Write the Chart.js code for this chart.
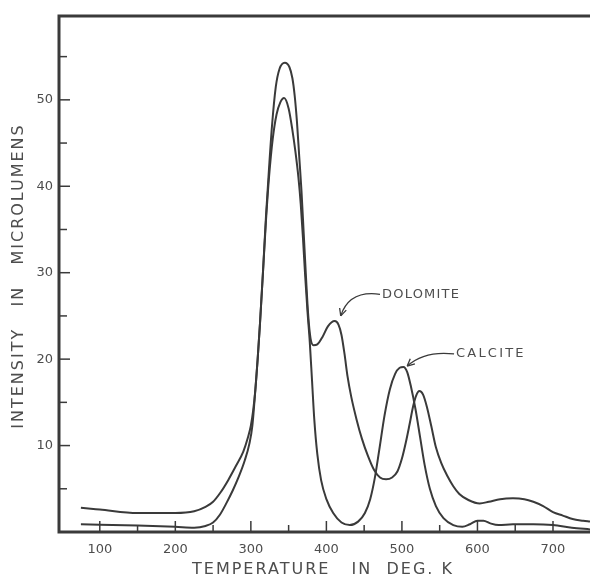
<!DOCTYPE html>
<html>
<head>
<meta charset="utf-8">
<script src="https://cdn.jsdelivr.net/npm/chart.js@4.4.1/dist/chart.umd.min.js"></script>
<style>
  html, body { margin: 0; padding: 0; background: #fff; overflow: hidden; }
  #wrap { width: 590px; height: 579px; }
</style>
</head>
<body>
<div id="wrap"><canvas id="glow"></canvas></div>
<script>
// ── Data ──────────────────────────────────────
const dolomiteT = [75,100,150,200,225,240,250,260,270,280,290,296,300,303,306,309,312,316,320,324,328,333,338,345,351,355,358,361,364,367,370,373,376,379,383,388,395,402,411,416,420,424,428,433,440,447,455,463,471,479,487,494,500,505,510,515,519,523,528,533,539,545,552,560,568,576,588,603,615,630,647,662,674,687,700,713,726,740,749];
const dolomiteI = [2.8,2.6,2.2,2.2,2.4,2.9,3.5,4.6,6.0,7.6,9.3,10.9,12.3,14,16.5,20,24,30,36.5,42,47,51.5,53.6,54.3,53.8,52.5,50.5,47.5,43.5,39.5,34.5,29.5,25,22.4,21.6,21.7,22.6,23.8,24.4,24.0,22.8,20.6,18.0,15.6,13.0,10.8,8.8,7.2,6.3,6.1,6.3,7.0,8.5,10.3,12.4,14.6,15.8,16.3,15.9,14.5,12.2,9.8,8.0,6.5,5.3,4.4,3.7,3.3,3.5,3.8,3.9,3.8,3.5,3.0,2.3,1.9,1.5,1.3,1.2];

const calciteT = [75,100,150,200,225,240,250,259,268,276,284,292,298,302,306,309,312,316,320,324,329,334,339,344,350,355,359,363,366,369,372,375,378,381,384,388,393,400,409,420,431,442,451,458,464,470,477,484,491,497,502,507,512,518,524,530,537,545,555,568,580,590,600,608,617,628,647,674,700,725,749];
const calciteI = [0.9,0.85,0.75,0.6,0.5,0.7,1.1,2.0,3.4,4.8,6.4,8.3,10.2,12.3,16.5,20,24,30,36,41,45.5,48.3,49.7,50.2,49,46.5,44,41,38,34,29.5,25.5,22,17.5,13,9,6,3.8,2.2,1.1,0.8,1.2,2.2,3.8,6.2,9.5,13.5,16.5,18.3,19.0,19.1,18.5,16.8,14.2,11,7.8,5.0,3.0,1.6,0.8,0.6,0.9,1.3,1.3,1.0,0.8,0.9,0.9,0.8,0.5,0.3];

const xMajor = [100,200,300,400,500,600,700];
const xMinor = [150,250,350,450,550,650];
const yMajor = [10,20,30,40,50];
const yMinor = [5,15,25,35,45,55];

const INK = '#3a3a3a';
const TEXT = '#4d4d4d';

// curve labels: text anchor + arrow tip, in data units
const callouts = [
  { text: 'DOLOMITE', at: [471, 27.5], tip: [419, 25.0], bend: [430, 28.0], spacing: '1.2px' },
  { text: 'CALCITE',  at: [569, 20.6], tip: [507, 19.2], bend: [530, 21.0], spacing: '2.2px' }
];

function toPoints(xs, ys) {
  return xs.map((v, i) => ({ x: v, y: ys[i] }));
}

// ── Frame, inward ticks, titles, callouts ─────
const decor = {
  id: 'decor',
  afterDraw(chart) {
    const { ctx, chartArea: a, scales: { x, y } } = chart;
    ctx.save();
    ctx.strokeStyle = INK;
    ctx.lineCap = 'butt';

    // three-sided frame (right side is off the page)
    ctx.lineWidth = 3;
    ctx.beginPath();
    ctx.moveTo(a.right + 4, a.top);
    ctx.lineTo(a.left, a.top);
    ctx.lineTo(a.left, a.bottom);
    ctx.lineTo(a.right + 4, a.bottom);
    ctx.stroke();

    ctx.lineWidth = 1.5;
    const seg = (x1, y1, x2, y2) => { ctx.beginPath(); ctx.moveTo(x1, y1); ctx.lineTo(x2, y2); ctx.stroke(); };
    xMajor.forEach(v => { const p = x.getPixelForValue(v); seg(p, a.bottom, p, a.bottom - 11); });
    xMinor.forEach(v => { const p = x.getPixelForValue(v); seg(p, a.bottom, p, a.bottom - 7); });
    yMajor.forEach(v => { const p = y.getPixelForValue(v); seg(a.left, p, a.left + 11, p); });
    yMinor.forEach(v => { const p = y.getPixelForValue(v); seg(a.left, p, a.left + 8, p); });

    // axis titles
    ctx.fillStyle = TEXT;
    ctx.font = '16px "DejaVu Sans"';
    ctx.letterSpacing = '2px';
    ctx.textAlign = 'center';
    ctx.textBaseline = 'middle';
    ctx.fillText('TEMPERATURE   IN  DEG. K', 323, 570);
    ctx.save();
    ctx.translate(19, 276);
    ctx.rotate(-Math.PI / 2);
    ctx.fillText('INTENSITY   IN   MICROLUMENS', 0, 0);
    ctx.restore();

    // callouts
    ctx.font = '13px "DejaVu Sans"';
    ctx.textAlign = 'left';
    ctx.lineWidth = 1.3;
    callouts.forEach(c => {
      const tx = x.getPixelForValue(c.at[0]), ty = y.getPixelForValue(c.at[1]);
      const px = x.getPixelForValue(c.tip[0]), py = y.getPixelForValue(c.tip[1]);
      const bx = x.getPixelForValue(c.bend[0]), by = y.getPixelForValue(c.bend[1]);
      ctx.letterSpacing = c.spacing;
      ctx.fillText(c.text, tx + 2, ty);
      ctx.beginPath();
      ctx.moveTo(tx, ty);
      ctx.quadraticCurveTo(bx, by, px, py);
      ctx.stroke();
      const ang = Math.atan2(py - by, px - bx);
      [0.45, -0.45].forEach(d => {
        seg(px, py, px - 8 * Math.cos(ang + d), py - 8 * Math.sin(ang + d));
      });
    });
    ctx.restore();
  }
};

// ── Chart ─────────────────────────────────────
new Chart(document.getElementById('glow'), {
  type: 'line',
  data: {
    datasets: [
      { label: 'Dolomite', data: toPoints(dolomiteT, dolomiteI) },
      { label: 'Calcite',  data: toPoints(calciteT, calciteI) }
    ]
  },
  options: {
    responsive: true,
    maintainAspectRatio: false,
    animation: false,
    layout: { padding: { top: 16, right: 0, left: 0, bottom: 0 } },
    elements: {
      line: { borderColor: INK, borderWidth: 2, cubicInterpolationMode: 'monotone', fill: false },
      point: { radius: 0 }
    },
    plugins: {
      legend: { display: false },
      tooltip: { enabled: false }
    },
    scales: {
      x: {
        type: 'linear',
        min: 46,
        max: 749,
        grid: { display: false, drawTicks: false },
        border: { display: false },
        afterBuildTicks: s => { s.ticks = xMajor.map(v => ({ value: v })); },
        afterFit: s => { s.height = 47; },
        ticks: { color: TEXT, padding: 10, font: { family: 'DejaVu Sans', size: 13 }, maxRotation: 0 }
      },
      y: {
        min: 0,
        max: 59.7,
        grid: { display: false, drawTicks: false },
        border: { display: false },
        afterBuildTicks: s => { s.ticks = yMajor.map(v => ({ value: v })); },
        afterFit: s => { s.width = 59; },
        ticks: { color: TEXT, padding: 6, font: { family: 'DejaVu Sans', size: 13 } }
      }
    }
  },
  plugins: [decor]
});
</script>
</body>
</html>
